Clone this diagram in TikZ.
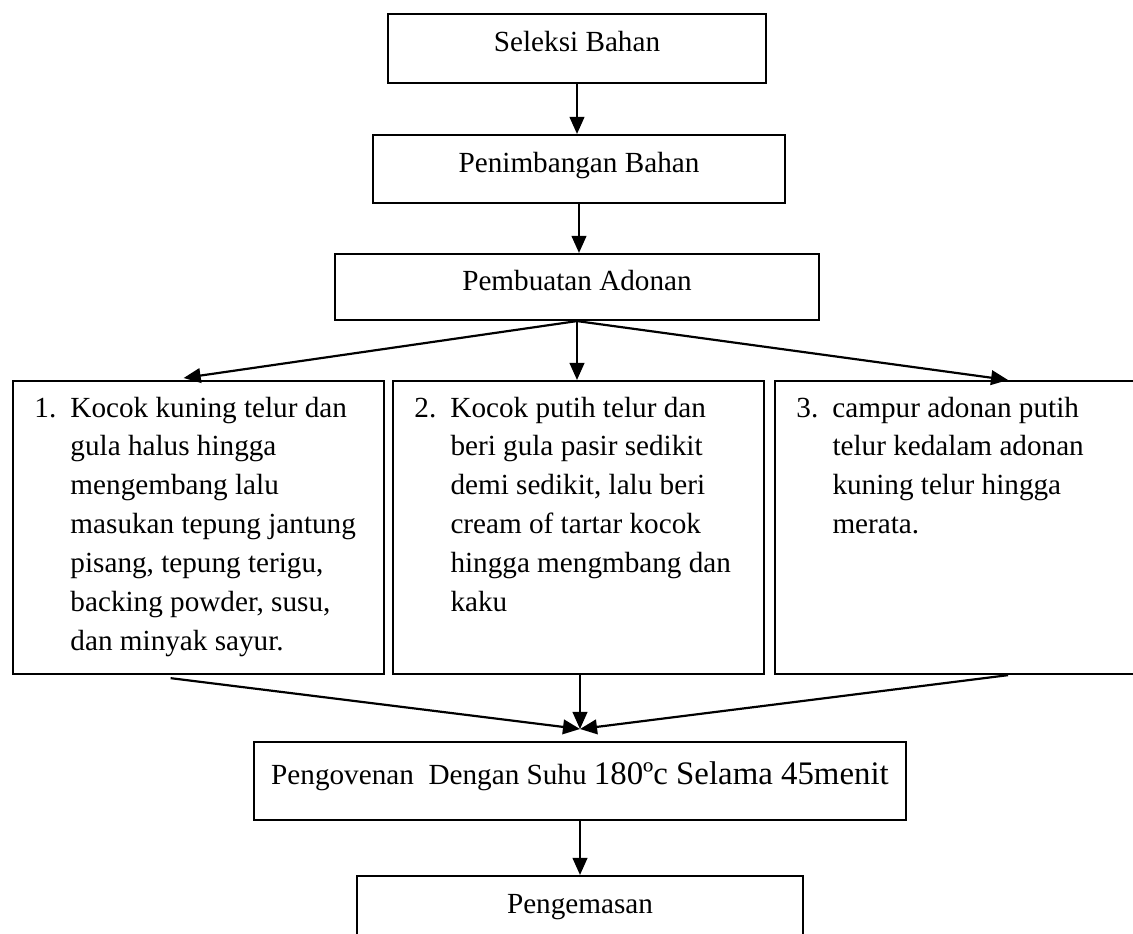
\documentclass[tikz,border=0pt]{standalone}
\usepackage{fontspec}
\setmainfont{Liberation Serif}
\usepackage{tikz}
\usetikzlibrary{arrows.meta}

\begin{document}
\begin{tikzpicture}[
x=0.411pt, y=-0.411pt,
box/.style={draw, line width=0.9pt, minimum height=27.9pt, align=center, font=\fontsize{12}{16}\selectfont, text height=0.72em, text depth=0.45em},
listbox/.style={draw, line width=0.9pt, minimum width=152.5pt, minimum height=120.4pt, anchor=north west},
listtext/.style={anchor=base west, inner sep=0pt, font=\fontsize{12}{16}\selectfont},
arrow/.style={-{Triangle[length=7pt, width=6pt]}, line width=0.9pt}
]
\useasboundingbox (0,0) rectangle (1133,933);
\node[box, minimum width=155.4pt, minimum height=28.4pt] (seleksi) at (577,48.5) {Seleksi Bahan};
\node[box, minimum width=169.3pt] (penimbangan) at (579,169) {Penimbangan Bahan};
\node[box, minimum width=198.9pt, minimum height=27.1pt] (pembuatan) at (577,287) {Pembuatan Adonan};
\node[listbox] (box1) at (12,380) {};
\node[listbox] (box2) at (392,380) {};
\node[listbox, minimum width=191.5pt] (box3) at (774,380) {};
\node[listtext] (item1) at ([shift={(22,37)}]box1.north west) {\begin{tabular}[t]{@{}p{14.8pt}@{}l@{}}
1. & Kocok kuning telur dan\\
 & gula halus hingga\\
 & mengembang lalu\\
 & masukan tepung jantung\\
 & pisang, tepung terigu,\\
 & backing powder, susu,\\
 & dan minyak sayur.
\end{tabular}};
\node[listtext] (item2) at ([shift={(22,37)}]box2.north west) {\begin{tabular}[t]{@{}p{14.8pt}@{}l@{}}
2. & Kocok putih telur dan\\
 & beri gula pasir sedikit\\
 & demi sedikit, lalu beri\\
 & cream of tartar kocok\\
 & hingga mengmbang dan\\
 & kaku
\end{tabular}};
\node[listtext] (item3) at ([shift={(22,37)}]box3.north west) {\begin{tabular}[t]{@{}p{14.8pt}@{}l@{}}
3. & campur adonan putih\\
 & telur kedalam adonan\\
 & kuning telur hingga\\
 & merata.
\end{tabular}};
\node[box, minimum width=268pt, minimum height=32.1pt] (oven) at (580,781) {Pengovenan\ \ Dengan Suhu \fontsize{13.5}{16}\selectfont 180ºc Selama 45menit};
\node[box, minimum width=183.3pt] (pengemasan) at (580,910) {Pengemasan};
\coordinate (merge) at (580,729);

\draw[arrow] (seleksi.south) -- (seleksi.south |- penimbangan.north);
\draw[arrow] (penimbangan.south) -- (penimbangan.south |- pembuatan.north);
\draw[arrow] (pembuatan.south) -- ([shift={(-15,-2)}]box1.north);
\draw[arrow] (pembuatan.south) -- (pembuatan.south |- box2.north);
\draw[arrow] (pembuatan.south) -- (box3.north);
\draw[arrow] ([shift={(-28,3)}]box1.south) -- (merge);
\draw[arrow] (merge |- box2.south) -- (merge);
\draw[arrow] (box3.south) -- (merge);
\draw[arrow] (oven.south) -- (pengemasan.north);
\end{tikzpicture}
\end{document}
